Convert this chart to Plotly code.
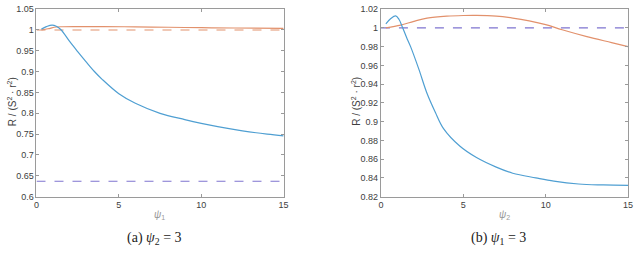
import plotly.graph_objects as go

# ---- data (a) psi2 = 3 ----
a_blue_x = [0.3, 0.6, 0.95, 1.2, 1.5, 2.0, 2.5, 3.0, 3.5, 4.0, 5.0, 6.0, 7.5, 9.0, 10.0, 11.0, 12.5, 14.0, 15.0]
a_blue_y = [1.002, 1.008, 1.0118, 1.009, 1.000, 0.973, 0.948, 0.924, 0.901, 0.881, 0.847, 0.824, 0.800, 0.785, 0.776, 0.768, 0.758, 0.750, 0.746]
a_orange_x = [0.3, 0.7, 1.2, 1.6, 2.5, 4.0, 6.0, 8.0, 10.0, 12.0, 15.0]
a_orange_y = [1.000, 1.003, 1.0072, 1.0078, 1.008, 1.008, 1.0075, 1.0065, 1.0055, 1.0047, 1.0038]
a_ref_x = [0, 15]
a_ref_orange = [1.0, 1.0]
a_ref_purple = [0.637, 0.637]

# ---- data (b) psi1 = 3 ----
b_blue_x = [0.3, 0.6, 0.9, 1.1, 1.3, 1.6, 1.8, 2.3, 2.8, 3.3, 3.8, 4.8, 5.8, 7.0, 8.0, 9.4, 10.5, 12.0, 13.5, 15.0]
b_blue_y = [1.0043, 1.010, 1.0128, 1.009, 1.001, 0.988, 0.980, 0.956, 0.930, 0.910, 0.8925, 0.8737, 0.8617, 0.8515, 0.845, 0.840, 0.8365, 0.8335, 0.8325, 0.832]
b_orange_x = [0.3, 1.2, 2.0, 2.8, 4.0, 5.0, 5.8, 7.0, 8.0, 9.0, 10.0, 11.0, 12.5, 14.0, 15.0]
b_orange_y = [1.000, 1.0029, 1.007, 1.0104, 1.0125, 1.0132, 1.0133, 1.0125, 1.0105, 1.0075, 1.0035, 0.998, 0.9907, 0.9843, 0.980]
b_ref_x = [0, 15]
b_ref_purple = [1.0, 1.0]

x_ticks = [0, 5, 10, 15]
a_yticks = [0.6, 0.65, 0.7, 0.75, 0.8, 0.85, 0.9, 0.95, 1.0, 1.05]
b_yticks = [0.82, 0.84, 0.86, 0.88, 0.9, 0.92, 0.94, 0.96, 0.98, 1.0, 1.02]

BLUE = "#4f9fd2"
ORANGE = "#e2916c"
PURPLE = "#7f74d0"
FRAME = "#9a9a9a"
TICKC = "#404040"

fig = go.Figure()

def line(x, y, color, xa, ya, dash="solid", w=1.2, shape="spline"):
    fig.add_trace(go.Scatter(x=x, y=y, mode="lines", xaxis=xa, yaxis=ya,
                             line=dict(color=color, width=w, dash=dash, shape=shape),
                             showlegend=False, hoverinfo="skip"))

# panel a
line(a_ref_x, a_ref_orange, ORANGE, "x", "y", dash="dash", shape="linear")
line(a_ref_x, a_ref_purple, PURPLE, "x", "y", dash="dash", shape="linear")
line(a_orange_x, a_orange_y, ORANGE, "x", "y")
line(a_blue_x, a_blue_y, BLUE, "x", "y")
# panel b
line(b_ref_x, b_ref_purple, PURPLE, "x2", "y2", dash="dash", shape="linear")
line(b_orange_x, b_orange_y, ORANGE, "x2", "y2")
line(b_blue_x, b_blue_y, BLUE, "x2", "y2")

axis_common = dict(showgrid=False, zeroline=False, showline=True, mirror="ticks",
                   linecolor=FRAME, linewidth=1, ticks="inside", ticklen=3,
                   tickcolor=FRAME, ticklabeloverflow="allow",
                   tickfont=dict(family="Liberation Sans", size=9, color=TICKC))

fig.update_layout(
    width=640, height=269,
    margin=dict(l=0, r=0, t=0, b=0),
    paper_bgcolor="white", plot_bgcolor="white",
    xaxis=dict(domain=[0.053, 0.444], range=[0, 15], tickvals=x_ticks, anchor="y", **axis_common),
    yaxis=dict(domain=[0.260, 0.984], range=[0.6, 1.05 + 1e-6], tickvals=a_yticks, anchor="x", **axis_common),
    xaxis2=dict(domain=[0.598, 0.989], range=[0, 15], tickvals=x_ticks, anchor="y2", **axis_common),
    yaxis2=dict(domain=[0.260, 0.984], range=[0.82, 1.02 + 1e-6], tickvals=b_yticks, anchor="x2", **axis_common),
)

def note(text, x, y, size, color, family="Liberation Sans", angle=0):
    fig.add_annotation(text=text, x=x / 640, y=1 - y / 269, xref="paper", yref="paper",
                       xanchor="center", yanchor="middle", textangle=angle, showarrow=False,
                       font=dict(family=family, size=size, color=color))

ylab = "R / (S<sup>2</sup> · r<sup>2</sup>)"
note(ylab, 9, 100, 10, TICKC, angle=-90)
note(ylab, 358, 100, 10, TICKC, angle=-90)
note("<i>ψ</i><sub>1</sub>", 158, 218, 10, "#999999")
note("<i>ψ</i><sub>2</sub>", 508, 218, 10, "#999999")
note("(a) <i>ψ</i><sub>2</sub> = 3", 153, 243, 14, "#222222", family="Liberation Serif")
note("(b) <i>ψ</i><sub>1</sub> = 3", 502, 243, 14, "#222222", family="Liberation Serif")

fig.write_html("out.html", config={"displayModeBar": False},
               post_script="document.body.style.margin='0';document.body.style.overflow='hidden';")
